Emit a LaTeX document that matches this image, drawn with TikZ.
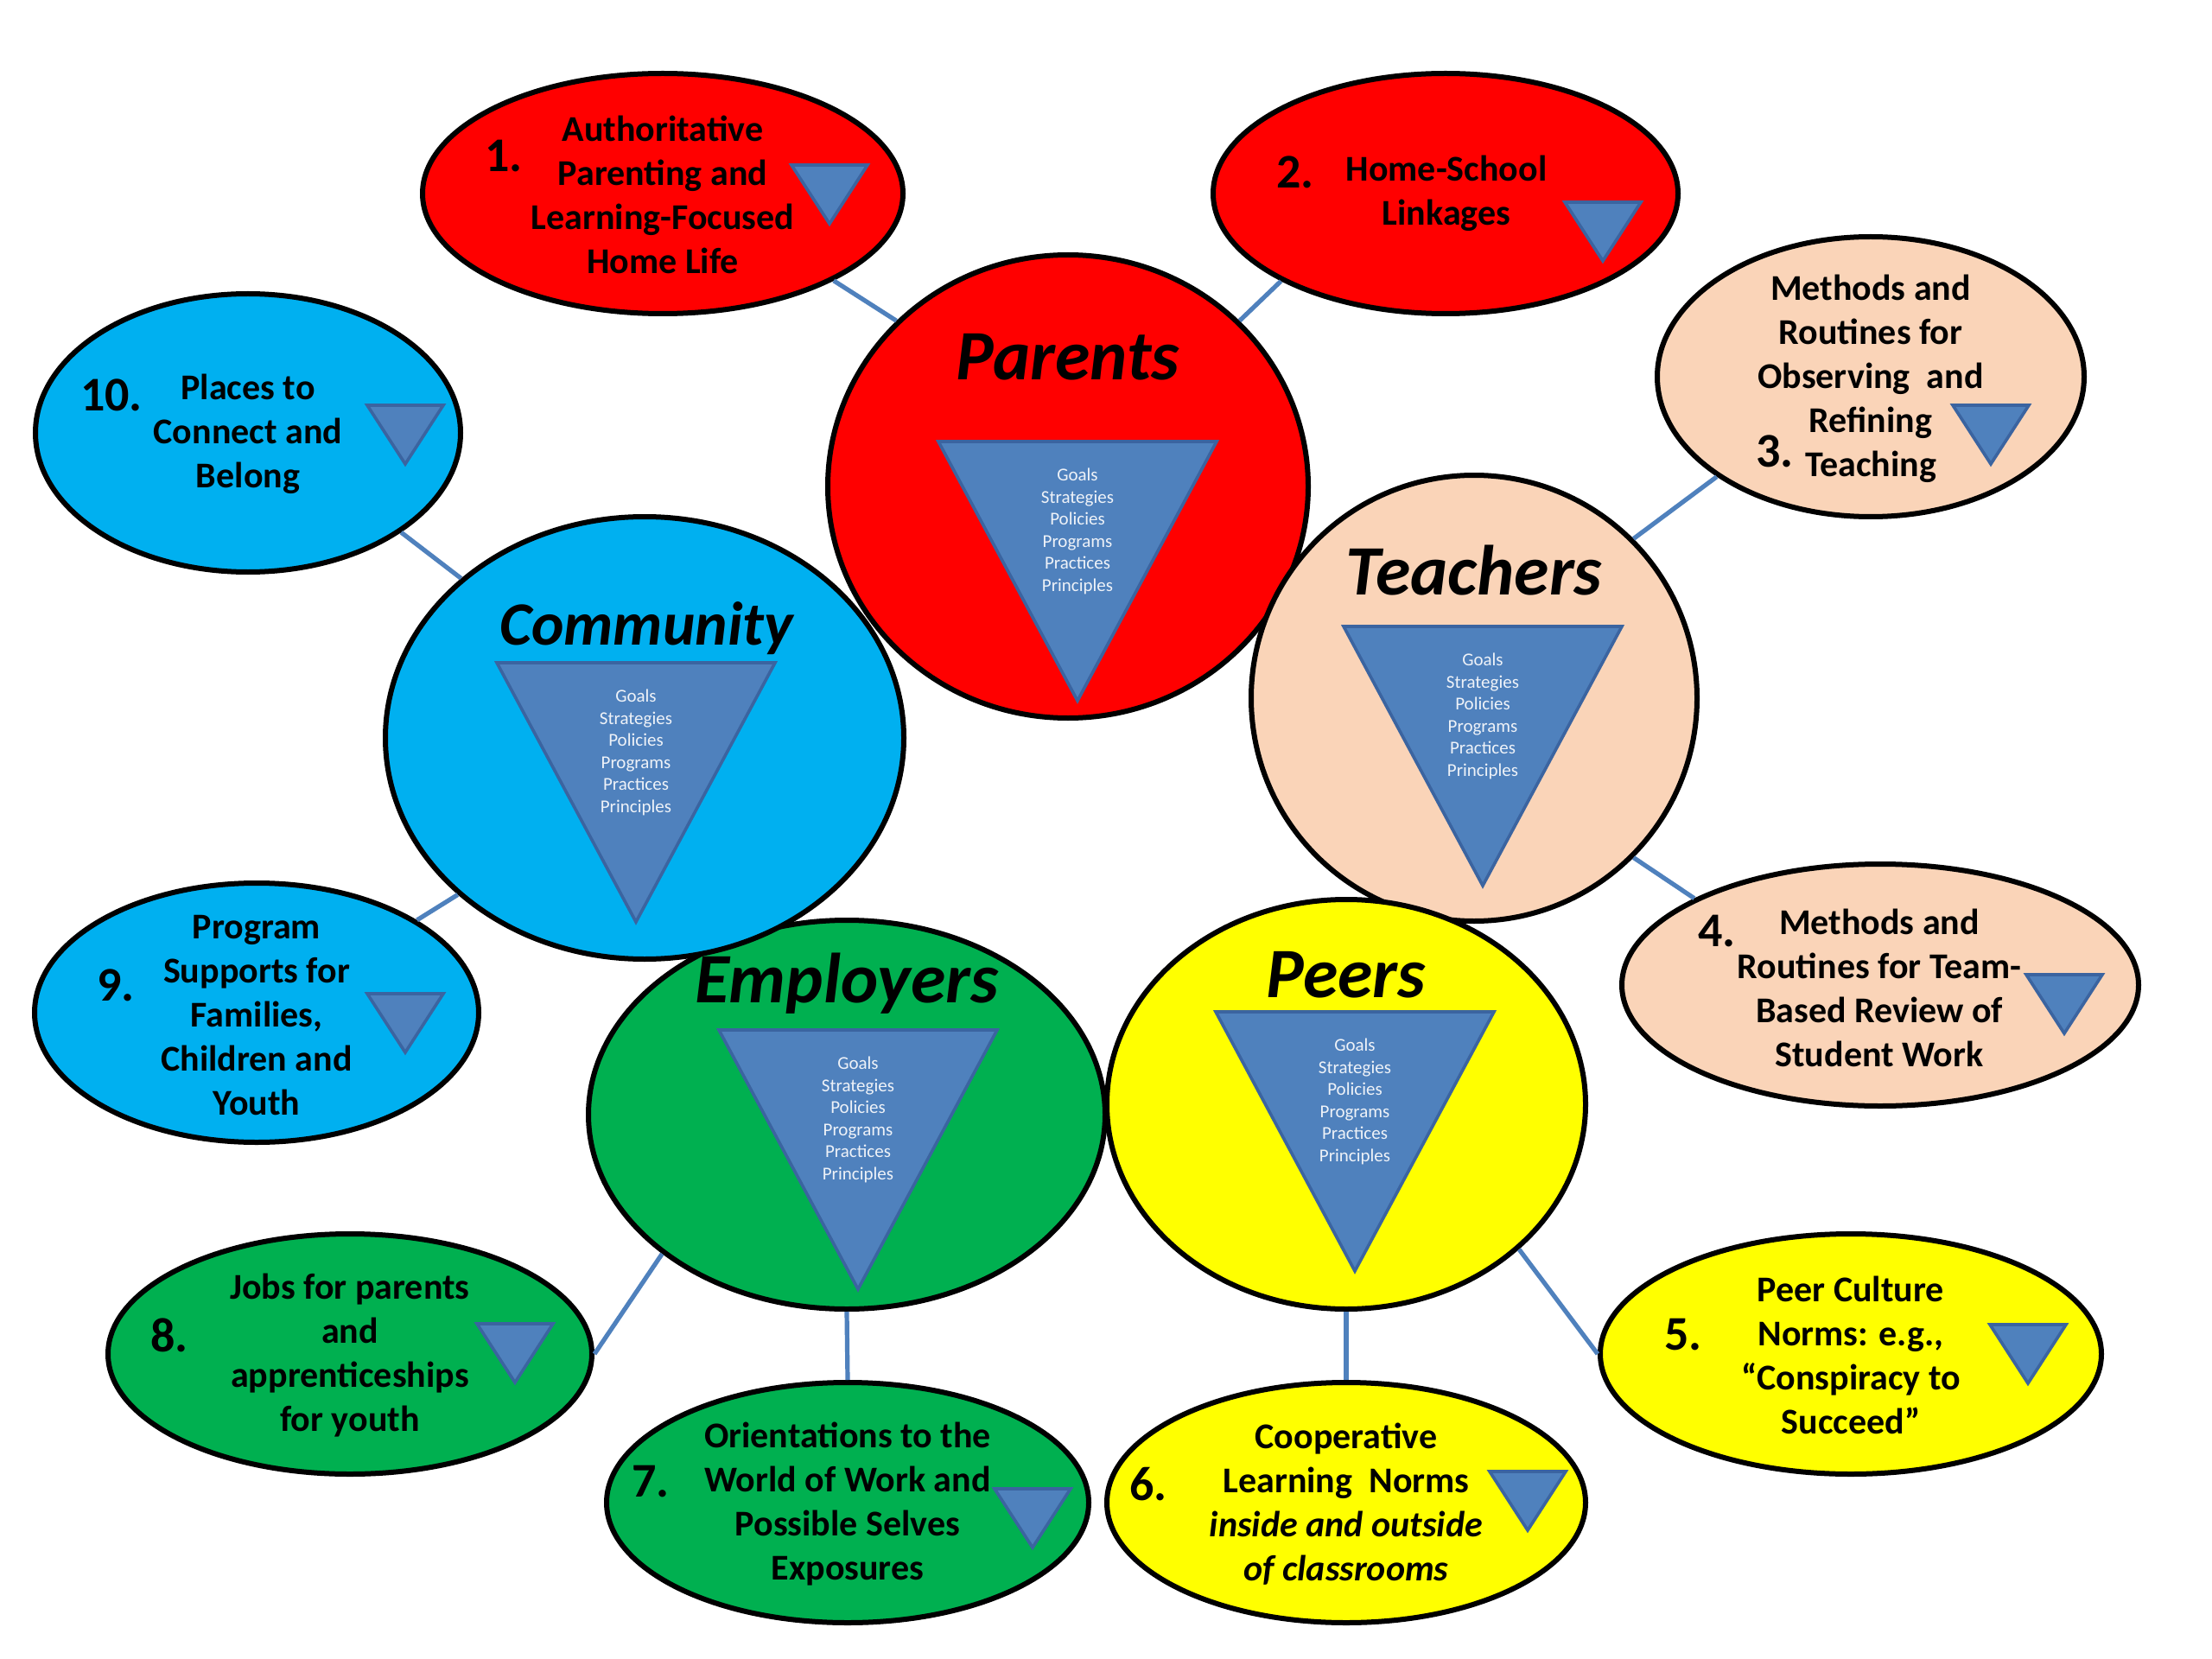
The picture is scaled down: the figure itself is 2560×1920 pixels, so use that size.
\documentclass[tikz,border=0pt]{standalone}
\usepackage{fontspec}
\setmainfont{Carlito}
\usetikzlibrary{shapes.geometric}
\definecolor{cRed}{HTML}{FF0000}
\definecolor{cCyan}{HTML}{00B0F0}
\definecolor{cPeach}{HTML}{FAD4B8}
\definecolor{cGreen}{HTML}{00B050}
\definecolor{cYellow}{HTML}{FFFF00}
\definecolor{triFill}{HTML}{4F81BD}
\definecolor{triLine}{HTML}{3B64A0}
\definecolor{linkC}{HTML}{4F81BD}
\definecolor{triTxt}{HTML}{EEF2F8}
\newcommand\BigTri[3]{%
  \draw[tri] (#2-161,#3) -- (#2+161,#3) -- (#2,#3+300) -- cycle;
  \node[tritext] (#1) at (#2,#3+104) {Goals\\Strategies\\Policies\\Programs\\Practices\\Principles};}
\newcommand\SmallTri[2]{%
  \draw[tri] (#1-44,#2) -- (#1+44,#2) -- (#1,#2+68) -- cycle;}
\begin{document}
\begin{tikzpicture}[x=0.5pt,y=-0.5pt,
  blob/.style={ellipse, draw=black, line width=3pt, inner sep=0pt},
  linkl/.style={draw=linkC, line width=2.6pt},
  tri/.style={fill=triFill, draw=triLine, line width=1.8pt, line join=miter},
  tritext/.style={text=triTxt, font=\fontsize{10.5}{12.75}\selectfont, align=center, inner sep=0pt},
  lbl/.style={font=\bfseries\fontsize{21}{25.5}\selectfont, align=center, inner sep=0pt},
  num/.style={font=\bfseries\fontsize{28}{30}\selectfont, inner sep=0pt},
  title/.style={font=\bfseries\itshape\fontsize{41}{45}\selectfont, inner sep=0pt}]
\useasboundingbox[fill=white] (0,0) rectangle (2560,1920);

% big circles
\node[blob, fill=cRed, minimum width=278pt, minimum height=268pt] (par) at (1236,563) {};
\node[blob, fill=cGreen, minimum width=299pt, minimum height=225pt] (emp) at (980,1290) {};
\node[blob, fill=cCyan, minimum width=300pt, minimum height=256pt] (com) at (746,854) {};
\node[blob, fill=cPeach, minimum width=258pt, minimum height=258pt] (tea) at (1706,808) {};
\node[blob, fill=cYellow, minimum width=277pt, minimum height=237pt] (peer) at (1558,1278) {};

% small ellipses
\node[blob, fill=cRed, minimum width=278pt, minimum height=139pt] (p1) at (767,224) {};
\node[blob, fill=cRed, minimum width=269pt, minimum height=139pt] (p2) at (1673,224) {};
\node[blob, fill=cPeach, minimum width=247pt, minimum height=162pt] (p3) at (2165,436) {};
\node[blob, fill=cPeach, minimum width=299pt, minimum height=140pt] (p4) at (2176,1140) {};
\node[blob, fill=cYellow, minimum width=290pt, minimum height=139pt] (p5) at (2142,1567) {};
\node[blob, fill=cYellow, minimum width=277pt, minimum height=139pt] (p6) at (1558,1739) {};
\node[blob, fill=cGreen, minimum width=279pt, minimum height=139pt] (p7) at (981,1739) {};
\node[blob, fill=cGreen, minimum width=280pt, minimum height=139pt] (p8) at (405,1567) {};
\node[blob, fill=cCyan, minimum width=257pt, minimum height=150pt] (p9) at (297,1172) {};
\node[blob, fill=cCyan, minimum width=246pt, minimum height=161pt] (p10) at (287,501) {};

% connectors
\draw[linkl] (p1.-27) -- (par.136);
\draw[linkl] (p2.-152) -- (par.44);
\draw[linkl] (p3.-147) -- (tea.45);
\draw[linkl] (tea.-45) -- (p4.155);
\draw[linkl] (peer.-40) -- (p5.180);
\draw[linkl] (peer.-90) -- (p6.90);
\draw[linkl] (emp.-90) -- (p7.90);
\draw[linkl] (emp.-143) -- (p8.0);
\draw[linkl] (com.-140) -- (p9.30);
\draw[linkl] (com.139) -- (p10.-33);

% titles
\node[title] (tPar) at (1236,413) {Parents};
\node[title] (tTea) at (1706,660) {Teachers};
\node[title, font=\bfseries\itshape\fontsize{35.6}{40}\selectfont] (tCom) at (748,727) {Community};
\node[title] (tEmp) at (980,1138) {Employers};
\node[title] (tPeer) at (1558,1128) {Peers};

% big triangles
\BigTri{gPar}{1247}{511}
\BigTri{gTea}{1716}{725}
\BigTri{gCom}{736}{767}
\BigTri{gEmp}{993}{1192}
\BigTri{gPeer}{1568}{1171}

% small triangles
\SmallTri{960}{191}
\SmallTri{1855}{234}
\SmallTri{2304}{469}
\SmallTri{2389}{1128}
\SmallTri{2347}{1533}
\SmallTri{1768}{1703}
\SmallTri{1195}{1723}
\SmallTri{596}{1532}
\SmallTri{469}{1150}
\SmallTri{469}{469}

% labels
\node[lbl] (l1) at (767,225) {Authoritative\\Parenting and\\Learning-Focused\\Home Life};
\node[num] (n1) at (583,181) {1.};
\node[lbl] (l2) at (1674,224) {Home-School\\Linkages};
\node[num] (n2) at (1499,199) {2.};
\node[lbl] (l3) at (2165,438) {Methods and\\Routines for\\Observing~~and\\Refining\\Teaching};
\node[num] (n3) at (2054,522) {3.};
\node[lbl] (l4) at (2175,1143) {Methods and\\Routines for Team-\\Based Review of\\Student Work};
\node[num] (n4) at (1987,1078) {4.};
\node[lbl] (l5) at (2142,1568) {Peer Culture\\Norms: e.g.,\\“Conspiracy to\\Succeed”};
\node[num] (n5) at (1948,1545) {5.};
\node[lbl] (l6) at (1558,1741) {Cooperative\\Learning~~Norms\\\textit{inside and outside}\\\textit{of classrooms}};
\node[num] (n6) at (1329,1718) {6.};
\node[lbl] (l7) at (981,1741) {Orientations to the\\World of Work and\\Possible Selves\\Exposures};
\node[num] (n7) at (753,1715) {7.};
\node[lbl] (l8) at (405,1569) {Jobs for parents\\and\\apprenticeships\\for youth};
\node[num] (n8) at (196,1545) {8.};
\node[lbl] (l9) at (297,1175) {Program\\Supports for\\Families,\\Children and\\Youth};
\node[num] (n9) at (134,1140) {9.};
\node[lbl] (l10) at (287,502) {Places to\\Connect and\\Belong};
\node[num] (n10) at (129,457) {10.};
\end{tikzpicture}
\end{document}
